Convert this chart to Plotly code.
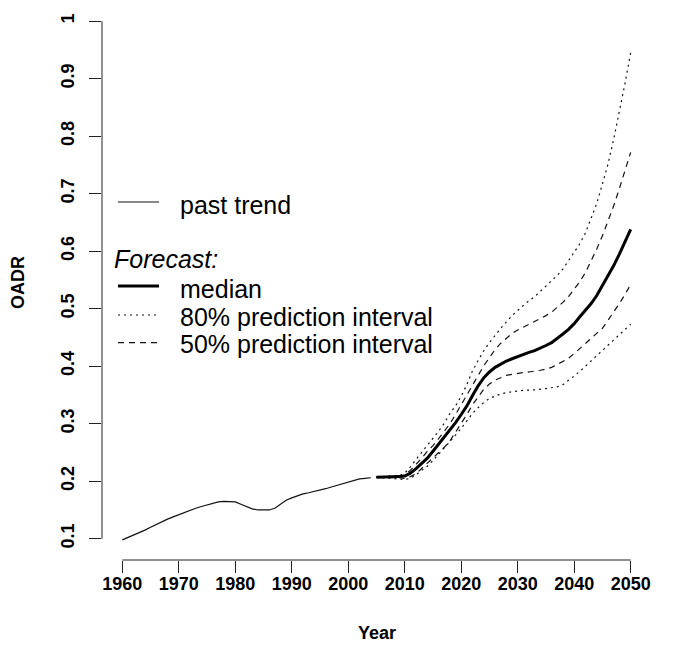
import plotly.graph_objects as go

# ---------------- data ----------------
past_years = list(range(1960, 2005))
past_oadr = [0.098, 0.102, 0.106, 0.110, 0.115, 0.120, 0.125, 0.130, 0.134, 0.138,
             0.142, 0.146, 0.150, 0.153, 0.156, 0.159, 0.162, 0.164, 0.165, 0.165,
             0.164, 0.160, 0.156, 0.152, 0.150, 0.150, 0.150, 0.153, 0.160, 0.167,
             0.171, 0.175, 0.178, 0.180, 0.182, 0.184, 0.187, 0.190, 0.193, 0.196,
             0.199, 0.202, 0.204, 0.205, 0.206]

fc_years = list(range(2005, 2051))
median = [0.207, 0.207, 0.208, 0.207, 0.208, 0.209, 0.214, 0.222, 0.231, 0.240,
          0.252, 0.264, 0.277, 0.290, 0.302, 0.316, 0.331, 0.349, 0.366, 0.380,
          0.390, 0.398, 0.404, 0.409, 0.413, 0.417, 0.420, 0.424, 0.427, 0.431,
          0.436, 0.441, 0.448, 0.456, 0.464, 0.474, 0.486, 0.497, 0.509, 0.523,
          0.540, 0.557, 0.575, 0.595, 0.616, 0.638]
pi80_upper = [0.207, 0.208, 0.209, 0.209, 0.210, 0.214, 0.225, 0.238, 0.250, 0.263,
              0.274, 0.287, 0.301, 0.318, 0.331, 0.348, 0.368, 0.392, 0.410, 0.427,
              0.441, 0.454, 0.466, 0.477, 0.488, 0.497, 0.506, 0.514, 0.521, 0.530,
              0.539, 0.549, 0.558, 0.569, 0.583, 0.597, 0.613, 0.632, 0.656, 0.683,
              0.717, 0.752, 0.795, 0.842, 0.892, 0.945]
pi50_upper = [0.207, 0.207, 0.208, 0.208, 0.209, 0.211, 0.219, 0.229, 0.240, 0.252,
              0.262, 0.274, 0.287, 0.300, 0.316, 0.332, 0.350, 0.367, 0.384, 0.401,
              0.415, 0.429, 0.440, 0.449, 0.457, 0.463, 0.468, 0.472, 0.477, 0.482,
              0.488, 0.494, 0.502, 0.511, 0.521, 0.533, 0.547, 0.563, 0.583, 0.604,
              0.627, 0.652, 0.679, 0.709, 0.740, 0.772]
pi50_lower = [0.207, 0.207, 0.207, 0.206, 0.206, 0.205, 0.208, 0.213, 0.222, 0.231,
              0.241, 0.250, 0.259, 0.270, 0.285, 0.299, 0.316, 0.333, 0.347, 0.360,
              0.369, 0.376, 0.380, 0.384, 0.386, 0.388, 0.389, 0.390, 0.391, 0.393,
              0.395, 0.398, 0.403, 0.408, 0.414, 0.422, 0.431, 0.439, 0.448, 0.457,
              0.466, 0.480, 0.494, 0.509, 0.525, 0.542]
pi80_lower = [0.207, 0.206, 0.206, 0.205, 0.204, 0.203, 0.205, 0.211, 0.219, 0.226,
              0.236, 0.248, 0.258, 0.269, 0.280, 0.292, 0.305, 0.318, 0.328, 0.337,
              0.344, 0.348, 0.352, 0.354, 0.356, 0.357, 0.358, 0.358, 0.359, 0.360,
              0.361, 0.362, 0.364, 0.368, 0.375, 0.383, 0.391, 0.400, 0.410, 0.419,
              0.428, 0.437, 0.446, 0.455, 0.463, 0.473]

x_ticks = list(range(1960, 2051, 10))
y_ticks = [0.1, 0.2, 0.3, 0.4, 0.5, 0.6, 0.7, 0.8, 0.9, 1.0]
y_tick_labels = ["0.1", "0.2", "0.3", "0.4", "0.5", "0.6", "0.7", "0.8", "0.9", "1"]

legend_labels = ["past trend", "median", "80% prediction interval", "50% prediction interval"]
legend_header = "Forecast:"

# ---------------- figure ----------------
W, H = 673, 646
ML, MR, MT, MB = 94, 30, 0, 94
PW, PH = W - ML - MR, H - MT - MB

FONT = "Liberation Sans, Arial, sans-serif"
DOT = "2px,4px"
DASH = "6px,5px"

fig = go.Figure()
fig.add_trace(go.Scatter(x=past_years, y=past_oadr, mode="lines",
                         line=dict(color="#111", width=1.2), showlegend=False))
fig.add_trace(go.Scatter(x=fc_years, y=pi80_upper, mode="lines",
                         line=dict(color="#111", width=1.2, dash=DOT), showlegend=False))
fig.add_trace(go.Scatter(x=fc_years, y=pi80_lower, mode="lines",
                         line=dict(color="#111", width=1.2, dash=DOT), showlegend=False))
fig.add_trace(go.Scatter(x=fc_years, y=pi50_upper, mode="lines",
                         line=dict(color="#111", width=1.2, dash=DASH), showlegend=False))
fig.add_trace(go.Scatter(x=fc_years, y=pi50_lower, mode="lines",
                         line=dict(color="#111", width=1.2, dash=DASH), showlegend=False))
fig.add_trace(go.Scatter(x=fc_years, y=median, mode="lines",
                         line=dict(color="#000", width=3), showlegend=False))


def px_x(p):
    return (p - ML) / PW


def px_y(p):
    return (H - MB - p) / PH


# R-style axis lines spanning only the tick range
fig.add_shape(type="line", xref="x", yref="paper", x0=x_ticks[0], x1=x_ticks[-1], y0=0, y1=0,
              line=dict(color="#222", width=1))
fig.add_shape(type="line", xref="paper", yref="y", x0=0, x1=0, y0=y_ticks[0], y1=y_ticks[-1],
              line=dict(color="#222", width=1))

# manual legend
LX0, LX1, TX = 110, 151, 170
rows = [(194.0, 197.0, dict(color="#111", width=1.2)),
        (278.0, 281.0, dict(color="#000", width=3)),
        (307.0, 308.7, dict(color="#111", width=1.2, dash=DOT)),
        (334.7, 336.3, dict(color="#111", width=1.2, dash=DASH))]
for (ly, ty, ln), lab in zip(rows, legend_labels):
    fig.add_shape(type="line", xref="paper", yref="paper", x0=px_x(LX0), x1=px_x(LX1),
                  y0=px_y(ly), y1=px_y(ly), line=ln)
    fig.add_annotation(xref="paper", yref="paper", x=px_x(TX), y=px_y(ty), text=lab,
                       showarrow=False, xanchor="left", yanchor="middle",
                       font=dict(family=FONT, size=25, color="#000"))
fig.add_annotation(xref="paper", yref="paper", x=px_x(104), y=px_y(250.8),
                   text="<i>" + legend_header + "</i>", showarrow=False,
                   xanchor="left", yanchor="middle",
                   font=dict(family=FONT, size=25, color="#000"))

# axis titles
fig.add_annotation(xref="paper", yref="paper", x=0.5, y=px_y(624.5), text="<b>Year</b>",
                   showarrow=False, xanchor="center", yanchor="middle",
                   font=dict(family=FONT, size=18, color="#000"))
fig.add_annotation(xref="paper", yref="paper", x=px_x(10), y=px_y(275), text="<b>OADR</b>",
                   showarrow=False, xanchor="center", yanchor="middle", textangle=-90,
                   font=dict(family=FONT, size=18, color="#000"))

fig.update_layout(
    width=W, height=H,
    margin=dict(l=ML, r=MR, t=MT, b=MB, pad=0),
    paper_bgcolor="white", plot_bgcolor="white",
    showlegend=False,
    xaxis=dict(range=[1956.4, 2053.6], tickvals=x_ticks, ticktext=[f"<b>{v}</b>" for v in x_ticks],
               ticks="outside", ticklen=12, tickwidth=1, tickcolor="#222",
               ticklabelstandoff=-5,
               showgrid=False, zeroline=False, showline=False,
               tickfont=dict(family=FONT, size=18, color="#000")),
    yaxis=dict(range=[0.0630, 1.0230], tickvals=y_ticks,
               ticktext=[f"<b>{t}</b>" for t in y_tick_labels],
               ticks="outside", ticklen=12, tickwidth=1, tickcolor="#222", tickangle=-90,
               ticklabelstandoff=8,
               showgrid=False, zeroline=False, showline=False,
               tickfont=dict(family=FONT, size=18, color="#000")),
)

fig.write_html("out.html")
